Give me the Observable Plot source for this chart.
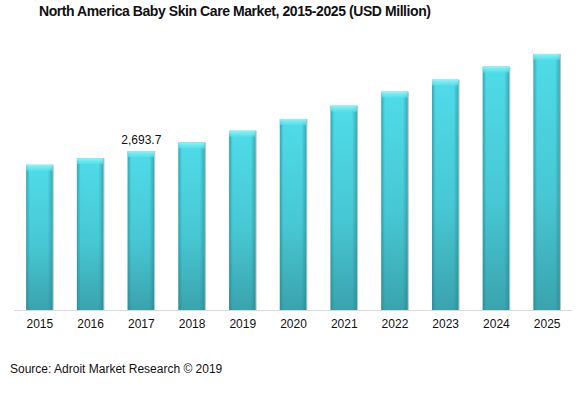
<!DOCTYPE html>
<html><head><meta charset="utf-8">
<script src="https://cdn.jsdelivr.net/npm/d3@7"></script>
<script src="https://cdn.jsdelivr.net/npm/@observablehq/plot@0.6"></script>
<style>
body{margin:0;background:#fff;font-family:Arial,"Liberation Sans",sans-serif;}
#wrap{position:relative;width:586px;height:399px;}
#title{position:absolute;left:39px;top:3px;font-size:14px;letter-spacing:-0.43px;font-weight:bold;color:#111;white-space:nowrap;}
#src{position:absolute;left:10px;top:362px;font-size:12px;color:#111;white-space:nowrap;}
</style></head>
<body><div id="wrap"><div id="title">North America Baby Skin Care Market, 2015-2025 (USD Million)</div><div id="chart"></div><div id="src">Source: Adroit Market Research © 2019</div></div>
<script>
const years = ["2015","2016","2017","2018","2019","2020","2021","2022","2023","2024","2025"];
const values = [2461, 2575, 2693.7, 2840, 3038, 3237, 3463, 3700, 3904, 4125, 4340];
const labelYear = "2017";
const labelText = "2,693.7";
const data = years.map((y,i)=>({year:y, value:values[i]}));
const chart = Plot.plot({
  width:586, height:399,
  marginLeft:14, marginRight:14, marginTop:15, marginBottom:89,
  style:{fontFamily:"Arial, 'Liberation Sans', sans-serif", fontSize:"12px", background:"transparent", color:"#111"},
  x:{domain:years, paddingInner:0.48, paddingOuter:0.24, round:false, label:null, tickSize:0, tickPadding:9},
  y:{domain:[0,5000], axis:null},
  marks:[
    Plot.barY(data,{x:"year", y:"value", fill:"#b8c4c6", dx:1.2}),
    Plot.barY(data,{x:"year", y:"value", fill:"url(#gv)"}),
    Plot.barY(data,{x:"year", y:"value", fill:"url(#gh)"}),
    Plot.barY(data,{x:"year", y1:d=>d.value, y2:d=>d.value-100, fill:"url(#gt)"}),
    Plot.ruleY([0],{stroke:"#d9d9d9", strokeWidth:1}),
    Plot.text(data.filter(d=>d.year===labelYear),{x:"year", y:"value", text:()=>labelText, dy:-11, fontSize:12, fill:"#111"})
  ]
});
document.getElementById("chart").appendChild(chart);
const svg = d3.select(chart);
const defs = svg.insert("defs",":first-child");
const gv = defs.append("linearGradient").attr("id","gv").attr("x1",0).attr("y1",0).attr("x2",0).attr("y2",1);
gv.append("stop").attr("offset","0%").attr("stop-color","#4fdbe8");
gv.append("stop").attr("offset","55%").attr("stop-color","#47c8d4");
gv.append("stop").attr("offset","100%").attr("stop-color","#3aa3ad");
const gh = defs.append("linearGradient").attr("id","gh").attr("x1",0).attr("y1",0).attr("x2",1).attr("y2",0);
gh.append("stop").attr("offset","0%").attr("stop-color","#1c7f88").attr("stop-opacity",0.55);
gh.append("stop").attr("offset","14%").attr("stop-color","#1c7f88").attr("stop-opacity",0.0);
gh.append("stop").attr("offset","82%").attr("stop-color","#1c7f88").attr("stop-opacity",0.0);
gh.append("stop").attr("offset","100%").attr("stop-color","#1c7f88").attr("stop-opacity",0.5);
const gt = defs.append("linearGradient").attr("id","gt").attr("x1",0).attr("y1",0).attr("x2",0).attr("y2",1);
gt.append("stop").attr("offset","0%").attr("stop-color","#8ef5f8");
gt.append("stop").attr("offset","100%").attr("stop-color","#5ee2ec").attr("stop-opacity",0.6);
</script>
</body></html>
